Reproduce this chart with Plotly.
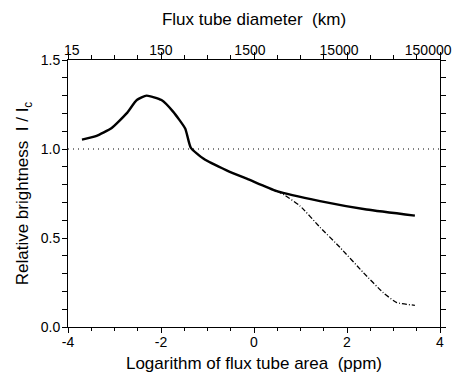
import plotly.graph_objects as go

# Solid curve: log area (ppm) vs relative brightness
solid_x = [-3.70, -3.40, -3.06, -2.74, -2.52, -2.31, -1.99, -1.74, -1.48, -1.36, -1.09, -0.59, -0.12, 0.49, 1.42, 2.42, 3.46]
solid_y = [1.053, 1.072, 1.118, 1.20, 1.275, 1.30, 1.275, 1.21, 1.115, 1.008, 0.946, 0.88, 0.829, 0.763, 0.707, 0.66, 0.626]

# Dash-dot branch
dash_x = [0.49, 0.63, 0.99, 1.42, 1.85, 2.35, 2.78, 3.07, 3.46]
dash_y = [0.763, 0.745, 0.68, 0.56, 0.447, 0.306, 0.193, 0.137, 0.122]

# Reference level
ref_x = [-4, 4]
ref_y = [1.0, 1.0]

x_major = [-4, -2, 0, 2, 4]
x_major_labels = ["-4", "-2", "0", "2", "4"]
top_labels = ["15", "150", "1500", "15000", "150000"]
x_minor = [-3.5, -3, -2.5, -1.5, -1, -0.5, 0.5, 1, 1.5, 2.5, 3, 3.5]
y_all = [0.0, 0.1, 0.2, 0.3, 0.4, 0.5, 0.6, 0.7, 0.8, 0.9, 1.0, 1.1, 1.2, 1.3, 1.4, 1.5]
y_labels = ["0.0", "", "", "", "", "0.5", "", "", "", "", "1.0", "", "", "", "", "1.5"]

X_RANGE = [-4, 4]
Y_RANGE = [0, 1.5]

font = "Liberation Sans, Arial, Helvetica, sans-serif"
tickfont = dict(family=font, size=14, color="black")
titlefont = dict(family=font, size=17, color="black")

fig = go.Figure()
fig.add_trace(go.Scatter(x=ref_x, y=ref_y, mode="lines",
                         line=dict(color="black", width=1, dash="1px,4px"),
                         showlegend=False, hoverinfo="skip"))
fig.add_trace(go.Scatter(x=solid_x, y=solid_y, mode="lines",
                         line=dict(color="black", width=2.4, shape="spline", smoothing=0.5),
                         showlegend=False))
fig.add_trace(go.Scatter(x=dash_x, y=dash_y, mode="lines",
                         line=dict(color="black", width=1.3, dash="5px,2px,1px,2px",
                                   shape="spline", smoothing=0.5),
                         showlegend=False))

# invisible helper traces so the overlay axes are drawn
for xa, ya in [("x2", "y"), ("x3", "y"), ("x4", "y"), ("x", "y2")]:
    fig.add_trace(go.Scatter(x=ref_x, y=ref_y, xaxis=xa, yaxis=ya, mode="lines",
                             line=dict(width=0, color="rgba(0,0,0,0)"),
                             showlegend=False, hoverinfo="skip"))

plain = dict(showgrid=False, zeroline=False, automargin=False)
tk = dict(ticks="outside", tickwidth=1, tickcolor="black")

fig.update_layout(
    template="none",
    width=460, height=379,
    margin=dict(l=60, r=28, t=52, b=60),
    paper_bgcolor="white", plot_bgcolor="white",
    font=dict(family=font, color="black"),
    xaxis=dict(range=X_RANGE, tickmode="array", tickvals=x_major, ticktext=x_major_labels,
               ticklen=5, **tk,
               showline=True, linecolor="black", linewidth=1, mirror=True,
               tickfont=tickfont, ticklabelstandoff=-3,
               title=dict(text="Logarithm of flux tube area  (ppm)", font=titlefont, standoff=8),
               **plain),
    xaxis2=dict(range=X_RANGE, overlaying="x", side="top", anchor="y",
                tickmode="array", tickvals=x_major, ticktext=top_labels,
                ticklen=7, **tk, showline=False, tickfont=tickfont,
                ticklabelposition="outside left", ticklabelshift=12, ticklabelstandoff=-2,
                title=dict(text="Flux tube diameter  (km)", font=titlefont, standoff=12),
                **plain),
    xaxis3=dict(range=X_RANGE, overlaying="x", side="bottom", anchor="y",
                tickmode="array", tickvals=x_minor, showticklabels=False,
                ticklen=3, **tk, showline=False, **plain),
    xaxis4=dict(range=X_RANGE, overlaying="x", side="top", anchor="y",
                tickmode="array", tickvals=x_minor, showticklabels=False,
                ticklen=4, **tk, showline=False, **plain),
    yaxis=dict(range=Y_RANGE, tickmode="array", tickvals=y_all, ticktext=y_labels,
               ticklen=5, **tk,
               showline=True, linecolor="black", linewidth=1, mirror=True,
               tickfont=tickfont, ticklabelstandoff=-1,
               title=dict(text="Relative brightness  I / I<sub>c</sub>", font=titlefont, standoff=7),
               **plain),
    yaxis2=dict(range=Y_RANGE, overlaying="y", side="right", anchor="x",
                tickmode="array", tickvals=y_all, showticklabels=False,
                ticklen=5, **tk, showline=False, **plain),
)

fig.write_html("out.html")
